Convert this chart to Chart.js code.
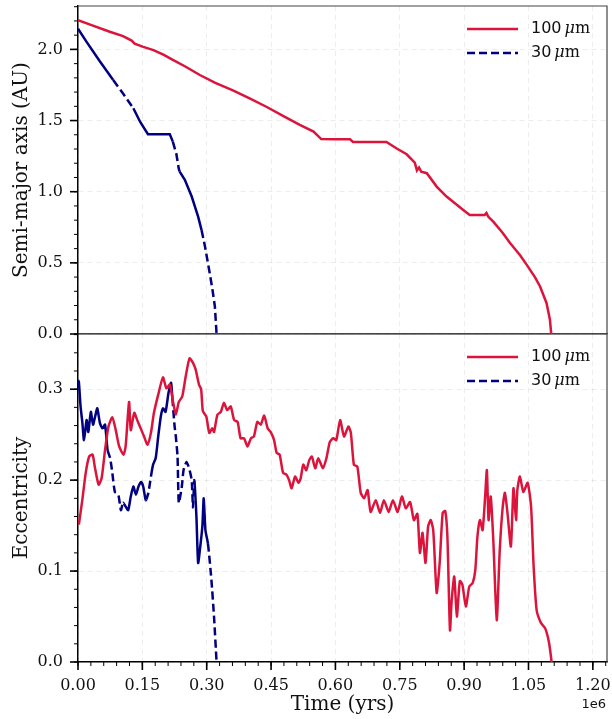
<!DOCTYPE html>
<html>
<head>
<meta charset="utf-8">
<script src="https://cdn.jsdelivr.net/npm/chart.js@4.4.1/dist/chart.umd.min.js"></script>
<style>
  body { margin: 0; background: #fff; }
  #wrap { position: relative; width: 612px; height: 719px; }
  canvas { position: absolute; left: 0; }
  #top { top: 0; }
  #bottom { top: 334px; }
</style>
</head>
<body>
<div id="wrap">
  <canvas id="top" width="612" height="346"></canvas>
  <canvas id="bottom" width="612" height="385"></canvas>
</div>
<script>
// ---- data (time in units of 1e6 yrs) ----
const xTicks = [0, 0.15, 0.30, 0.45, 0.60, 0.75, 0.90, 1.05, 1.20];
const yTopTicks = [0, 0.5, 1.0, 1.5, 2.0];
const yBotTicks = [0, 0.1, 0.2, 0.3];
const sizes = ['100', '30'];

// semi-major axis, 100 um
const tRedA = [0.000, 0.030, 0.074, 0.105, 0.125, 0.132, 0.152, 0.176, 0.200, 0.220, 0.250, 0.284, 0.320, 0.361, 0.400, 0.439, 0.480, 0.517, 0.549, 0.567, 0.600, 0.634, 0.641, 0.680, 0.719, 0.742, 0.766, 0.785, 0.790, 0.795, 0.800, 0.813, 0.836, 0.859, 0.880, 0.898, 0.913, 0.948, 0.952, 0.956, 0.968, 0.990, 1.007, 1.030, 1.046, 1.065, 1.077, 1.092, 1.100, 1.103];
const aRed  = [2.206, 2.172, 2.124, 2.093, 2.062, 2.040, 2.018, 1.995, 1.962, 1.928, 1.880, 1.820, 1.765, 1.712, 1.655, 1.597, 1.530, 1.469, 1.422, 1.370, 1.368, 1.368, 1.350, 1.350, 1.350, 1.305, 1.263, 1.204, 1.150, 1.170, 1.140, 1.130, 1.036, 0.966, 0.915, 0.872, 0.837, 0.837, 0.850, 0.825, 0.790, 0.710, 0.639, 0.555, 0.486, 0.400, 0.334, 0.218, 0.100, 0.000];

// semi-major axis, 30 um
const tBlueA = [0.000, 0.020, 0.050, 0.082, 0.105, 0.129, 0.145, 0.163, 0.190, 0.214, 0.221, 0.225, 0.229, 0.235, 0.237, 0.249, 0.265, 0.280, 0.288, 0.296, 0.307, 0.313, 0.319, 0.323];
const aBlue  = [2.145, 2.053, 1.920, 1.785, 1.690, 1.586, 1.490, 1.404, 1.404, 1.404, 1.352, 1.310, 1.270, 1.160, 1.141, 1.083, 0.966, 0.825, 0.730, 0.615, 0.428, 0.320, 0.194, 0.000];

// eccentricity, 100 um
const tRedE = [0.002, 0.010, 0.018, 0.026, 0.034, 0.039, 0.048, 0.055, 0.063, 0.071, 0.080, 0.088, 0.096, 0.106, 0.111, 0.119, 0.123, 0.131, 0.138, 0.146, 0.154, 0.162, 0.170, 0.177, 0.187, 0.198, 0.206, 0.214, 0.222, 0.228, 0.235, 0.243, 0.251, 0.260, 0.268, 0.274, 0.282, 0.287, 0.291, 0.299, 0.306, 0.313, 0.317, 0.325, 0.333, 0.340, 0.348, 0.356, 0.364, 0.372, 0.379, 0.387, 0.395, 0.403, 0.410, 0.418, 0.426, 0.434, 0.442, 0.449, 0.457, 0.463, 0.470, 0.478, 0.486, 0.492, 0.498, 0.506, 0.514, 0.519, 0.525, 0.532, 0.539, 0.545, 0.553, 0.560, 0.571, 0.579, 0.587, 0.595, 0.602, 0.611, 0.620, 0.630, 0.636, 0.643, 0.651, 0.659, 0.667, 0.675, 0.682, 0.694, 0.704, 0.713, 0.724, 0.734, 0.745, 0.755, 0.764, 0.774, 0.783, 0.791, 0.797, 0.803, 0.810, 0.816, 0.822, 0.828, 0.836, 0.843, 0.850, 0.856, 0.861, 0.867, 0.871, 0.877, 0.883, 0.890, 0.896, 0.904, 0.912, 0.920, 0.926, 0.931, 0.937, 0.943, 0.949, 0.953, 0.957, 0.962, 0.968, 0.976, 0.983, 0.990, 0.995, 1.001, 1.009, 1.015, 1.021, 1.024, 1.030, 1.038, 1.048, 1.056, 1.062, 1.069, 1.079, 1.089, 1.098, 1.104];
const eRed  = [0.151, 0.178, 0.208, 0.226, 0.228, 0.215, 0.195, 0.202, 0.233, 0.259, 0.269, 0.255, 0.237, 0.228, 0.237, 0.286, 0.255, 0.274, 0.266, 0.257, 0.248, 0.239, 0.252, 0.274, 0.294, 0.313, 0.301, 0.305, 0.285, 0.272, 0.286, 0.292, 0.314, 0.334, 0.329, 0.322, 0.305, 0.300, 0.276, 0.270, 0.252, 0.257, 0.253, 0.272, 0.275, 0.285, 0.277, 0.281, 0.266, 0.264, 0.246, 0.246, 0.237, 0.246, 0.248, 0.264, 0.261, 0.271, 0.257, 0.253, 0.244, 0.230, 0.228, 0.208, 0.206, 0.200, 0.191, 0.204, 0.197, 0.202, 0.217, 0.211, 0.222, 0.226, 0.213, 0.224, 0.213, 0.224, 0.242, 0.246, 0.244, 0.266, 0.248, 0.259, 0.252, 0.217, 0.215, 0.186, 0.180, 0.189, 0.165, 0.178, 0.164, 0.178, 0.165, 0.178, 0.165, 0.182, 0.169, 0.176, 0.156, 0.163, 0.120, 0.142, 0.109, 0.149, 0.156, 0.145, 0.076, 0.109, 0.164, 0.166, 0.138, 0.035, 0.068, 0.094, 0.050, 0.089, 0.085, 0.061, 0.083, 0.087, 0.101, 0.138, 0.156, 0.145, 0.182, 0.211, 0.156, 0.182, 0.134, 0.046, 0.123, 0.171, 0.186, 0.164, 0.127, 0.191, 0.156, 0.189, 0.204, 0.187, 0.197, 0.171, 0.105, 0.057, 0.043, 0.037, 0.021, 0.000];

// eccentricity, 30 um
const tBlueE = [0.000, 0.002, 0.006, 0.010, 0.014, 0.020, 0.024, 0.030, 0.035, 0.040, 0.045, 0.051, 0.057, 0.063, 0.069, 0.075, 0.080, 0.086, 0.094, 0.100, 0.105, 0.111, 0.117, 0.123, 0.129, 0.135, 0.141, 0.147, 0.152, 0.158, 0.164, 0.170, 0.175, 0.181, 0.187, 0.193, 0.198, 0.204, 0.211, 0.217, 0.220, 0.225, 0.228, 0.232, 0.235, 0.242, 0.246, 0.253, 0.259, 0.265, 0.268, 0.271, 0.276, 0.280, 0.285, 0.290, 0.293, 0.297, 0.303, 0.311, 0.317, 0.323];
const eBlue  = [0.310, 0.308, 0.281, 0.264, 0.244, 0.266, 0.253, 0.275, 0.261, 0.270, 0.279, 0.263, 0.257, 0.261, 0.233, 0.224, 0.208, 0.187, 0.184, 0.167, 0.175, 0.171, 0.167, 0.182, 0.193, 0.184, 0.193, 0.198, 0.193, 0.178, 0.186, 0.204, 0.217, 0.224, 0.248, 0.270, 0.279, 0.275, 0.296, 0.307, 0.290, 0.260, 0.248, 0.226, 0.175, 0.193, 0.211, 0.220, 0.213, 0.200, 0.170, 0.200, 0.160, 0.109, 0.127, 0.150, 0.180, 0.145, 0.130, 0.090, 0.050, 0.000];

// where the dense, jittery 30 um track looks solid despite the dashed style
const solidTopBlue = [[0, 0.082], [0.129, 0.222], [0.237, 0.285]];
const solidBotBlue = [[0, 0.07], [0.105, 0.155], [0.168, 0.222], [0.27, 0.30]];

const RED = '#DC143C';
const BLUE = '#000080';
const DASH = [8, 4];
const xMax = 1.233;
const gridColor = 'rgba(0,0,0,0.09)';

Chart.defaults.font.family = '"DejaVu Serif"';
Chart.defaults.color = '#111';

function pts(ts, vs) { return ts.map((t, i) => ({ x: t, y: vs[i] })); }

function minorList(step, max) {
  const out = [];
  for (let i = 0; i * step <= max + 1e-9; i++) out.push(+(i * step).toFixed(4));
  return out;
}

function dashFor(ranges) {
  return ctx => {
    const x = (ctx.p0.parsed.x + ctx.p1.parsed.x) / 2;
    return ranges.some(r => x >= r[0] && x <= r[1]) ? [] : DASH;
  };
}

// legend label: "100 \mu m" with mathtext-like mu
function drawSizeLabel(ctx, x, y, num) {
  ctx.textBaseline = 'middle';
  ctx.textAlign = 'left';
  ctx.font = '16px "DejaVu Sans"';
  ctx.fillText(num, x, y);
  x += ctx.measureText(num).width + 3;
  ctx.font = 'italic 16px "DejaVu Serif"';
  ctx.fillText('\u03bc', x, y);
  x += ctx.measureText('\u03bc').width;
  ctx.font = '16px "DejaVu Serif"';
  ctx.fillText('m', x, y);
}

const decor = {
  id: 'decor',
  afterDraw(chart, args, o) {
    const { ctx, chartArea: a, scales } = chart;
    ctx.save();
    // top / right spines
    ctx.strokeStyle = '#444';
    ctx.lineWidth = 1.2;
    ctx.beginPath();
    ctx.moveTo(a.left, a.top);
    ctx.lineTo(a.right, a.top);
    ctx.lineTo(a.right, a.bottom);
    ctx.stroke();

    // y ticks
    ctx.strokeStyle = '#000';
    o.yMinor.forEach(v => {
      const y = scales.y.getPixelForValue(v);
      ctx.lineWidth = 1;
      ctx.beginPath(); ctx.moveTo(a.left - 4, y); ctx.lineTo(a.left, y); ctx.stroke();
    });
    scales.y.ticks.forEach(t => {
      const y = scales.y.getPixelForValue(t.value);
      ctx.lineWidth = 1.6;
      ctx.beginPath(); ctx.moveTo(a.left - 8, y); ctx.lineTo(a.left, y); ctx.stroke();
    });

    // x ticks (bottom panel only)
    if (o.xTicks) {
      minorList(0.03, xMax).forEach(v => {
        const x = scales.x.getPixelForValue(v);
        ctx.lineWidth = 1;
        ctx.beginPath(); ctx.moveTo(x, a.bottom); ctx.lineTo(x, a.bottom + 4); ctx.stroke();
      });
      xTicks.forEach(v => {
        const x = scales.x.getPixelForValue(v);
        ctx.lineWidth = 1.6;
        ctx.beginPath(); ctx.moveTo(x, a.bottom); ctx.lineTo(x, a.bottom + 8); ctx.stroke();
      });
      ctx.fillStyle = '#111';
      ctx.font = '13px "DejaVu Sans"';
      ctx.textAlign = 'right';
      ctx.textBaseline = 'middle';
      ctx.fillText('1e6', a.right - 1, a.bottom + 43);
    }

    // legend
    chart.data.datasets.forEach((ds, i) => {
      const y = a.top + 23 + i * 24;
      ctx.strokeStyle = ds.borderColor;
      ctx.lineWidth = 2.5;
      ctx.setLineDash(i === 1 ? DASH : []);
      ctx.beginPath(); ctx.moveTo(a.right - 140, y); ctx.lineTo(a.right - 89, y); ctx.stroke();
      ctx.setLineDash([]);
      ctx.fillStyle = '#111';
      drawSizeLabel(ctx, a.right - 76, y, sizes[i]);
    });
    ctx.restore();
  }
};

function setTicks(list) {
  return scale => { scale.ticks = list.map(v => ({ value: v })); };
}

function makeChart(id, opts) {
  return new Chart(document.getElementById(id), {
    type: 'line',
    data: {
      datasets: [
        { data: opts.red, borderColor: RED, borderWidth: 2.5, pointRadius: 0, tension: opts.tension, fill: false },
        { data: opts.blue, borderColor: BLUE, borderWidth: 2.5, pointRadius: 0, tension: opts.tension, fill: false,
          borderDash: DASH, segment: { borderDash: dashFor(opts.solid) } }
      ]
    },
    options: {
      responsive: false,
      animation: false,
      devicePixelRatio: 1,
      layout: { padding: { top: opts.padTop, right: 5, left: 0, bottom: 0 } },
      plugins: { legend: { display: false }, tooltip: { enabled: false }, decor: { yMinor: opts.yMinor, xTicks: opts.showX } },
      scales: {
        x: {
          type: 'linear',
          min: 0,
          max: xMax,
          afterBuildTicks: setTicks(xTicks),
          ticks: { display: opts.showX, padding: 14, font: { size: 16 }, callback: v => v.toFixed(2) },
          grid: { color: gridColor, lineWidth: 0.8, drawTicks: false },
          border: { color: opts.showX ? '#000' : '#444', width: opts.showX ? 1.5 : 1.2, dash: [5, 4] },
          title: { display: opts.showX, text: 'Time (yrs)', font: { size: 20 }, padding: { top: 0, bottom: 2 } },
          afterFit: s => { s.height = opts.xHeight; s.paddingLeft = 0; s.paddingRight = 0; }
        },
        y: {
          type: 'linear',
          min: 0,
          max: opts.yMax,
          afterBuildTicks: setTicks(opts.yTicks),
          ticks: { padding: 15, font: { size: 16 }, callback: v => v.toFixed(1) },
          grid: { color: gridColor, lineWidth: 0.8, drawTicks: false },
          border: { color: '#000', width: 1.5, dash: [5, 4] },
          title: { display: true, text: opts.yTitle, font: { size: 20 }, padding: { top: 10, bottom: 0 } },
          afterFit: s => { s.width = 78; s.paddingTop = 0; s.paddingBottom = 0; }
        }
      }
    },
    plugins: [decor]
  });
}

makeChart('top', {
  red: pts(tRedA, aRed), blue: pts(tBlueA, aBlue), tension: 0, solid: solidTopBlue,
  padTop: 6, yMax: 2.305, yTicks: yTopTicks, yMinor: minorList(0.1, 2.305),
  yTitle: 'Semi-major axis (AU)', showX: false, xHeight: 12
});

makeChart('bottom', {
  red: pts(tRedE, eRed), blue: pts(tBlueE, eBlue), tension: 0.2, solid: solidBotBlue,
  padTop: 0, yMax: 0.3607, yTicks: yBotTicks, yMinor: minorList(0.02, 0.3607),
  yTitle: 'Eccentricity', showX: true, xHeight: 57
});
</script>
</body>
</html>
